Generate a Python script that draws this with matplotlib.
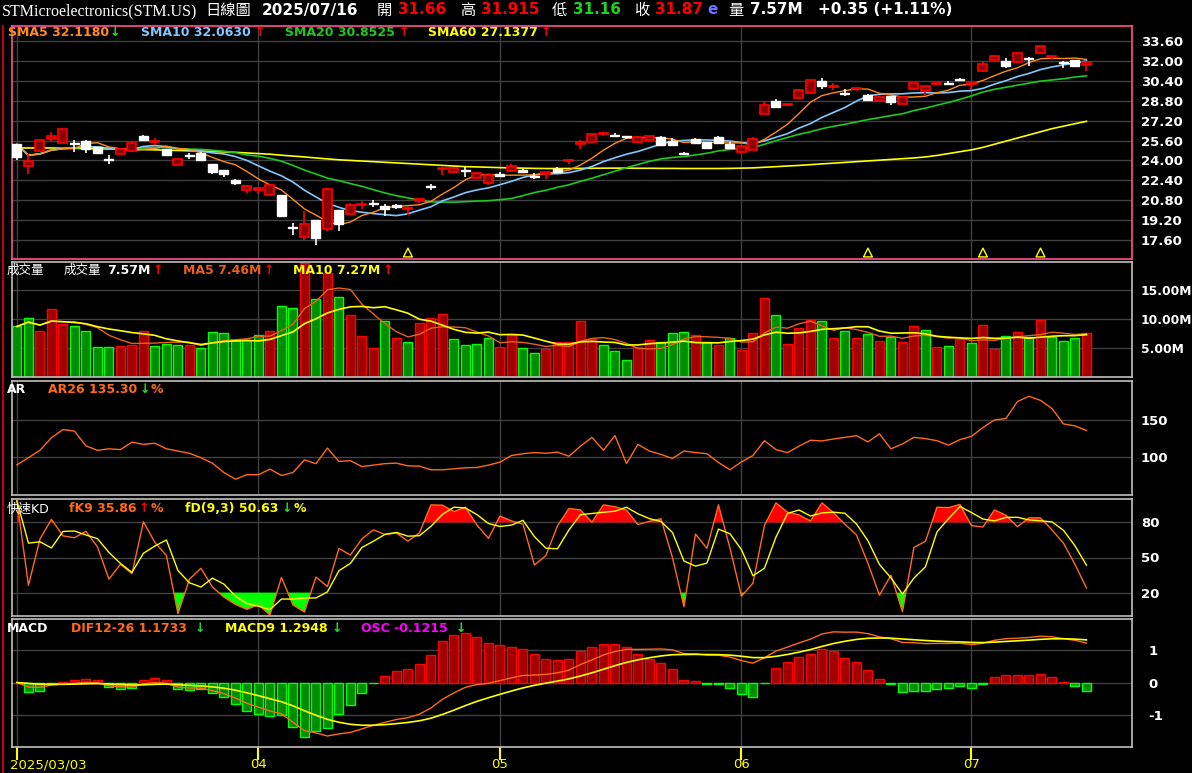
import matplotlib
matplotlib.use("Agg")
import matplotlib.pyplot as plt
import numpy as np
import pandas as pd

plt.rcParams['font.family'] = ['DejaVu Sans', 'Noto Sans CJK TC']

# 日K資料 (open, high, low, close) 2025/03/03 - 2025/07/16
ohlc = [
    (24.27, 25.30, 24.05, 25.28), (23.92, 24.53, 22.93, 23.55), (25.65, 25.70, 24.70, 24.75),
    (26.00, 26.32, 25.60, 25.73), (26.53, 26.55, 25.40, 25.41), (25.30, 25.65, 24.70, 25.35),
    (24.93, 25.65, 24.60, 25.55), (24.59, 25.10, 24.55, 25.07), (24.03, 24.40, 23.73, 24.07),
    (24.93, 25.00, 24.50, 24.53), (25.41, 25.60, 24.70, 24.75), (25.68, 26.05, 25.65, 26.00),
    (25.55, 25.80, 25.20, 25.50), (24.40, 24.95, 24.35, 24.93), (24.08, 24.10, 23.60, 23.65),
    (24.33, 24.60, 24.08, 24.37), (24.00, 24.65, 23.95, 24.60), (23.07, 23.70, 22.90, 23.68),
    (22.88, 23.20, 22.65, 23.20), (22.19, 22.50, 22.00, 22.40), (21.97, 22.05, 21.40, 21.65),
    (21.80, 21.85, 21.30, 21.65), (22.00, 22.05, 21.20, 21.23), (19.52, 21.20, 19.50, 21.20),
    (18.59, 18.99, 18.00, 18.63), (18.93, 19.90, 17.60, 17.81), (17.79, 19.20, 17.20, 19.20),
    (21.68, 21.75, 18.30, 18.53), (18.88, 20.00, 18.30, 20.00), (20.45, 20.60, 19.70, 19.73),
    (20.53, 20.70, 20.10, 20.40), (20.51, 20.80, 20.25, 20.55), (20.13, 20.50, 19.50, 20.37),
    (20.27, 20.50, 20.10, 20.43), (20.15, 20.30, 19.60, 20.11), (20.93, 21.00, 20.60, 20.75),
    (21.87, 22.10, 21.60, 21.91), (23.33, 23.50, 22.80, 23.29), (23.36, 23.45, 23.00, 23.07),
    (23.18, 23.45, 22.70, 23.22), (23.01, 23.10, 22.60, 22.61), (22.80, 22.85, 22.00, 22.19),
    (22.75, 23.10, 22.70, 22.93), (23.52, 23.70, 23.10, 23.12), (23.04, 23.30, 23.00, 23.25),
    (22.70, 22.95, 22.50, 22.74), (23.04, 23.10, 22.50, 22.88), (23.09, 23.50, 23.05, 23.31),
    (23.97, 24.10, 23.75, 23.93), (25.52, 25.65, 24.90, 25.31), (26.13, 26.20, 25.45, 25.47),
    (26.15, 26.30, 25.95, 26.11), (26.00, 26.20, 25.85, 26.05), (25.90, 26.00, 25.75, 25.94),
    (25.92, 25.95, 25.40, 25.47), (25.95, 26.00, 25.60, 25.68), (25.25, 26.00, 25.20, 25.87),
    (25.23, 25.80, 25.20, 25.60), (24.51, 24.65, 24.40, 24.55), (25.39, 25.80, 25.35, 25.73),
    (25.01, 25.50, 24.95, 25.44), (25.39, 25.95, 25.35, 25.92), (25.01, 25.45, 24.90, 25.33),
    (25.15, 25.20, 24.60, 24.67), (25.73, 25.90, 24.80, 24.85), (28.48, 28.70, 27.70, 27.73),
    (28.32, 28.95, 28.20, 28.80), (28.50, 28.55, 28.35, 28.46), (29.65, 29.70, 28.95, 29.01),
    (30.45, 30.50, 29.35, 29.39), (29.95, 30.60, 29.75, 30.40), (29.94, 30.20, 29.65, 29.90),
    (29.31, 29.70, 29.15, 29.35), (29.75, 29.85, 29.60, 29.71), (28.85, 29.30, 28.80, 29.28),
    (29.12, 29.15, 28.70, 28.75), (28.67, 29.20, 28.45, 29.20), (29.12, 29.15, 28.50, 28.53),
    (30.21, 30.25, 29.65, 29.71), (29.97, 30.00, 29.20, 29.60), (30.21, 30.30, 30.10, 30.17),
    (30.17, 30.35, 30.05, 30.21), (30.46, 30.60, 30.35, 30.50), (30.15, 30.40, 29.65, 30.11),
    (31.73, 32.00, 31.10, 31.15), (32.40, 32.45, 32.00, 32.08), (31.60, 32.20, 31.45, 32.00),
    (32.61, 32.70, 31.85, 31.87), (32.17, 32.30, 31.55, 32.21), (33.20, 33.25, 32.60, 32.67),
    (32.35, 32.40, 32.10, 32.30), (31.85, 31.95, 31.40, 31.89), (31.55, 32.10, 31.50, 32.05),
    (31.87, 31.915, 31.16, 31.66),
]

# 成交量 (百萬股) 與顏色 (1=綠 0=紅)
volume = [8.7, 10.2, 7.9, 11.7, 9.1, 8.7, 7.9, 5.1, 5.1, 5.3, 5.5, 8.0, 5.3, 5.7, 5.5, 5.5, 5.0,
          7.8, 7.5, 6.3, 6.3, 7.2, 7.9, 12.2, 11.9, 19.7, 13.4, 17.9, 13.7, 10.6, 7.0, 5.0, 9.6,
          6.8, 6.1, 9.3, 10.2, 10.9, 6.5, 5.5, 5.7, 6.7, 5.1, 7.3, 5.0, 4.1, 4.8, 6.1, 6.1, 9.6,
          6.6, 5.5, 4.4, 2.9, 5.1, 6.3, 6.0, 7.5, 7.8, 7.2, 6.1, 5.5, 6.7, 4.6, 7.5, 13.6, 10.6,
          5.7, 8.4, 9.8, 9.6, 6.7, 7.9, 6.8, 7.4, 6.2, 6.9, 6.0, 8.8, 8.1, 5.2, 5.3, 6.6, 5.9,
          9.0, 4.8, 7.1, 7.8, 6.9, 9.9, 6.9, 6.2, 6.7, 7.6]
vol_up = [1, 1, 0, 0, 0, 1, 1, 1, 1, 0, 0, 0, 1, 1, 1, 0, 1, 1, 1, 1, 1, 1, 0, 1, 1, 0, 1, 0,
          1, 0, 0, 0, 1, 0, 1, 0, 0, 0, 1, 1, 1, 1, 0, 0, 1, 1, 0, 0, 0, 0, 0, 1, 1, 1, 0, 0,
          1, 1, 1, 0, 1, 0, 1, 0, 0, 0, 1, 0, 0, 0, 1, 0, 1, 0, 1, 0, 1, 0, 0, 1, 0, 1, 0, 1,
          0, 0, 1, 0, 1, 0, 1, 1, 1, 0]

# SMA60 (需更早的歷史資料, 由圖讀取)
sma60 = [25.0, 25.0, 25.0, 25.0, 24.98, 24.97, 24.95, 24.93, 24.92, 24.9,
         24.88, 24.87, 24.85, 24.82, 24.8, 24.77, 24.75, 24.72, 24.68, 24.65,
         24.6, 24.55, 24.5, 24.42, 24.35, 24.28, 24.2, 24.12, 24.05, 24.0,
         23.95, 23.9, 23.85, 23.8, 23.75, 23.7, 23.65, 23.6, 23.55, 23.5,
         23.48, 23.45, 23.42, 23.4, 23.38, 23.36, 23.35, 23.35, 23.35, 23.36,
         23.37, 23.38, 23.38, 23.38, 23.37, 23.37, 23.36, 23.36, 23.35, 23.35,
         23.35, 23.35, 23.36, 23.38, 23.4, 23.45, 23.5, 23.55, 23.6, 23.66,
         23.72, 23.78, 23.84, 23.9, 23.96, 24.02, 24.08, 24.14, 24.2, 24.28,
         24.4, 24.55, 24.7, 24.85, 25.05, 25.3, 25.55, 25.8, 26.05, 26.3,
         26.55, 26.75, 26.95, 27.14]

# AR26
ar26 = [89.4, 99, 109, 126, 137, 135, 115, 109, 111, 110, 120, 117, 118.6, 111, 108, 105, 99,
        91.6, 79, 70, 76, 76, 83.6, 75, 79, 96, 91, 112, 94, 95, 87, 89, 91, 91.6, 88, 87.6,
        82.7, 82.7, 84, 85.4, 85.8, 89, 93, 102, 104.4, 106, 105, 106.6, 101, 114.6, 126.5,
        109, 129, 91, 117, 108, 103.5, 98, 108, 106, 104.4, 92.5, 82.7, 93.4, 102, 122, 110,
        105.8, 114.6, 122.6, 121.7, 124.3, 126.5, 128.8, 120.4, 131.4, 111, 117.7, 126.5,
        124.8, 122, 116, 123.5, 127.9, 139.8, 150, 152, 175, 182, 176.5, 165.5, 144.7, 142,
        135.8]

month_idx = [0, 21, 42, 63, 83]
month_lbl = ["2025/03/03", "04", "05", "06", "07"]
signal_idx = [34, 74, 84, 89]

df = pd.DataFrame(ohlc, columns=["o", "h", "l", "c"])
x = np.arange(len(df))
c = df.c
sma5 = c.rolling(5, min_periods=1).mean()
sma10 = c.rolling(10, min_periods=1).mean()
sma20 = c.rolling(20, min_periods=1).mean()
vol = pd.Series(volume)
vma5 = vol.rolling(5, min_periods=1).mean()
vma10 = vol.rolling(10, min_periods=1).mean()
l9 = df.l.rolling(9, min_periods=1).min()
h9 = df.h.rolling(9, min_periods=1).max()
fk = (c - l9) / (h9 - l9) * 100
fd = fk.rolling(3, min_periods=1).mean()
dif = c.ewm(span=12, adjust=False).mean() - c.ewm(span=26, adjust=False).mean()
dea = dif.ewm(span=9, adjust=False).mean()
osc = dif - dea
osc_bar = osc * 1.65 / osc.abs().max()   # 柱狀圖自身縮放

W, H = 1192, 773
fig = plt.figure(figsize=(W / 100, H / 100), dpi=100, facecolor="black")

def mkax(top, bot, edge="#c0c0c0"):
    ax = fig.add_axes([12 / W, 1 - bot / H, (1132 - 12) / W, (bot - top) / H], facecolor="black")
    ax.set_xlim(-0.43, 96.96)
    for s in ax.spines.values():
        s.set_color(edge)
        s.set_linewidth(1.2)
    ax.tick_params(left=False, labelleft=False, right=False, labelright=True, bottom=False,
                   labelbottom=False, colors="white", labelsize=9.5, pad=3)
    ax.set_xticks(month_idx)
    ax.grid(True, color="#404040", lw=1)
    ax.set_axisbelow(True)
    return ax

def txt(px, py, s, color, bold=True, size=9, **kw):
    fig.text(px / W, 1 - py / H, s, color=color, fontsize=size, va="center",
             fontweight="bold" if bold else "normal", **kw)

# 價格
ax1 = mkax(26, 259, edge="#ff5090")
ax1.set_ylim(16.08, 34.8)
ax1.set_yticks(np.arange(17.6, 34.0, 1.6))
ax1.set_yticklabels([f"{v:.2f}" for v in np.arange(17.6, 34.0, 1.6)], fontweight="bold")
up = df.c >= df.o
ax1.vlines(x, df.l, df.h, color=np.where(up, "white", "red"), lw=1.2, zorder=3)
body = (df.c - df.o).abs().clip(lower=0.08)
ax1.bar(x[up], body[up], bottom=df.o[up], width=0.78, color="white", edgecolor="white", lw=1, zorder=4)
ax1.bar(x[~up], body[~up], bottom=df.c[~up], width=0.78, color="#8b0000", edgecolor="red", lw=1.2, zorder=4)
ax1.plot(x, sma60, color="yellow", lw=1.2, zorder=2)
ax1.plot(x, sma20, color="#1ec81e", lw=1.2, zorder=2)
ax1.plot(x, sma10, color="#80c8ff", lw=1.2, zorder=2)
ax1.plot(x, sma5, color="#ff8c1a", lw=1, zorder=2)
ax1.scatter(signal_idx, [16.6] * len(signal_idx), marker="^", s=40, facecolor="none",
            edgecolor="yellow", lw=1, zorder=5)

# 成交量
ax2 = mkax(262, 377)
ax2.set_ylim(0, 19.8)
ax2.set_yticks([5, 10, 15])
ax2.set_yticklabels(["5.00M", "10.00M", "15.00M"], fontweight="bold", fontsize=8.8)
vu = np.array(vol_up) == 1
ax2.bar(x[vu], vol[vu], width=0.78, color="#008c00", edgecolor="#00ff00", lw=1)
ax2.bar(x[~vu], vol[~vu], width=0.78, color="#a00000", edgecolor="red", lw=1)
ax2.plot(x, vma5, color="#e8601c", lw=1)
ax2.plot(x, vma10, color="yellow", lw=1.2)

# AR
ax3 = mkax(381, 495)
ax3.set_ylim(48.6, 202.7)
ax3.set_yticks([100, 150])
ax3.set_yticklabels(["100", "150"], fontweight="bold")
ax3.plot(x, ar26, color="#ff6a1a", lw=1)

# 快速KD
ax4 = mkax(499, 616)
ax4.set_ylim(0, 100)
ax4.set_yticks([20, 50, 80])
ax4.set_yticklabels(["20", "50", "80"], fontweight="bold")
ax4.fill_between(x, 80, fk, where=fk > 80, interpolate=True, color="red", lw=0)
ax4.fill_between(x, 20, fk, where=fk < 20, interpolate=True, color="#00ff00", lw=0)
ax4.plot(x, fk, color="#ff6a1a", lw=1)
ax4.plot(x, fd, color="yellow", lw=1)

# MACD
ax5 = mkax(619, 747)
ax5.set_ylim(-1.97, 1.94)
ax5.set_yticks([-1, 0, 1])
ax5.set_yticklabels(["-1", "0", "1"], fontweight="bold")
pos = osc_bar >= 0
ax5.bar(x[pos], osc_bar[pos], width=0.78, color="#a00000", edgecolor="red", lw=1)
ax5.bar(x[~pos], osc_bar[~pos], width=0.78, color="#008c00", edgecolor="#00ff00", lw=1)
ax5.plot(x, dif, color="#ff6a1a", lw=1)
ax5.plot(x, dea, color="yellow", lw=1.2)
ax5.tick_params(bottom=True, length=9, width=1.5, color="yellow")

for i, lbl in zip(month_idx, month_lbl):
    px = 12 + (i + 0.43) * 11.5
    if i == 0:
        txt(10, 765, lbl, "yellow", bold=False, size=9.5)
    else:
        txt(px, 765, lbl, "yellow", bold=False, size=9.5, ha="center")

fig.add_artist(plt.Line2D([3 / W, 3 / W], [0, 1 - 26 / H], color="#c00000", lw=1.5))

# 標題列
fig.text(2 / W, 1 - 11 / H, "STMicroelectronics(STM.US)", color="white", fontsize=11.5,
         family="Liberation Serif", va="center")
hs = 11
txt(205, 10, "日線圖", "white", bold=False, size=hs)
txt(262, 10, "2025/07/16", "white", size=hs)
txt(377, 10, "開", "white", bold=False, size=hs)
txt(398, 10, "31.66", "red", size=hs)
txt(460, 10, "高", "white", bold=False, size=hs)
txt(481, 10, "31.915", "red", size=hs)
txt(552, 10, "低", "white", bold=False, size=hs)
txt(573, 10, "31.16", "#20d020", size=hs)
txt(634, 10, "收", "white", bold=False, size=hs)
txt(655, 10, "31.87", "red", size=hs)
txt(707, 10, "e", "#7070ff", size=hs)
txt(728, 10, "量", "white", bold=False, size=hs)
txt(750, 10, "7.57M", "white", size=hs)
txt(818, 10, "+0.35 (+1.11%)", "white", size=hs)

UP, DN = "red", "#20e020"
for px, s, col in [(8, "SMA5 32.1180", "#ff8c1a"), (110, "↓", DN), (141, "SMA10 32.0630", "#80c8ff"),
                   (255, "↑", UP), (285, "SMA20 30.8525", "#1ec81e"), (399, "↑", UP),
                   (428, "SMA60 27.1377", "yellow"), (541, "↑", UP)]:
    txt(px, 33, s, col)
txt(7, 270, "成交量", "white", bold=False)
for px, s, col in [(64, "成交量", "white"), (107, "7.57M", "white"), (153, "↑", UP),
                   (183, "MA5 7.46M", "#e8601c"), (264, "↑", UP), (293, "MA10 7.27M", "yellow"), (383, "↑", UP)]:
    txt(px, 270, s, col, bold=(s != "成交量"))
for px, s, col in [(7, "AR", "white"), (48, "AR26 135.30", "#ff6a1a"), (140, "↓", DN), (151, "%", "#ff6a1a")]:
    txt(px, 390, s, col)
txt(7, 509, "快速KD", "white", bold=False)
for px, s, col in [(69, "fK9 35.86", "#ff6a1a"), (139, "↑", UP), (151, "%", "#ff6a1a"),
                   (185, "fD(9,3) 50.63", "yellow"), (282, "↓", DN), (294, "%", "yellow")]:
    txt(px, 509, s, col)
for px, s, col in [(7, "MACD", "white"), (71, "DIF12-26 1.1733", "#ff6a1a"), (195, "↓", DN),
                   (225, "MACD9 1.2948", "yellow"), (332, "↓", DN), (361, "OSC -0.1215", "#ff00ff"), (456, "↓", DN)]:
    txt(px, 628, s, col)

fig.savefig("out.png", dpi=100, facecolor="black")
